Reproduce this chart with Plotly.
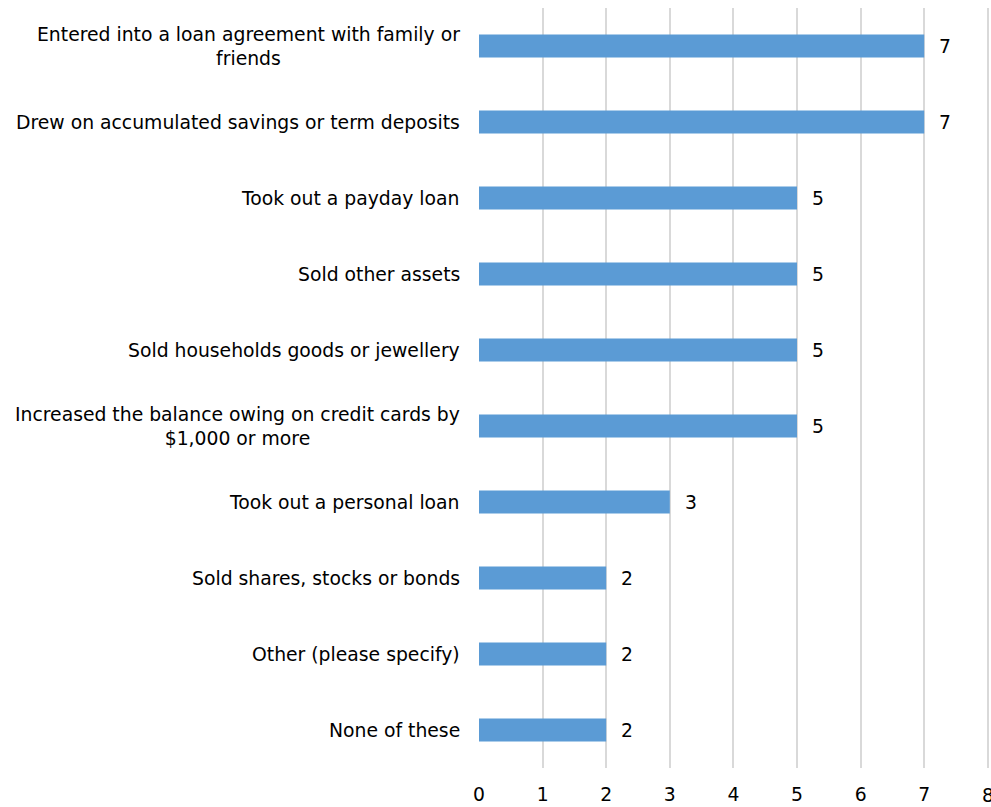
import plotly.graph_objects as go

# Responses, listed top to bottom
categories = [
    "Entered into a loan agreement with family or<br>friends",
    "Drew on accumulated savings or term deposits",
    "Took out a payday loan",
    "Sold other assets",
    "Sold households goods or jewellery",
    "Increased the balance owing on credit cards by<br>$1,000 or more",
    "Took out a personal loan",
    "Sold shares, stocks or bonds",
    "Other (please specify)",
    "None of these",
]
counts = [7, 7, 5, 5, 5, 5, 3, 2, 2, 2]
x_ticks = [0, 1, 2, 3, 4, 5, 6, 7, 8]

FONT = "DejaVu Sans"
BAR_COLOR = "#5b9bd5"
positions = list(range(len(categories)))

fig = go.Figure(
    go.Bar(
        x=counts,
        y=positions,
        orientation="h",
        width=0.3,
        marker=dict(color=BAR_COLOR, line=dict(width=0)),
        hoverinfo="skip",
    )
)

annotations = []
# category labels, right-aligned to the axis with centred line wrapping
for pos, label in zip(positions, categories):
    annotations.append(dict(
        x=0, xref="paper", y=pos, yref="y",
        text=label, showarrow=False,
        xanchor="right", yanchor="middle", align="center",
        xshift=-17,
        font=dict(family=FONT, size=18.8, color="#000000"),
    ))
# value labels to the right of each bar
for pos, v in zip(positions, counts):
    annotations.append(dict(
        x=v, xref="x", y=pos, yref="y",
        text=str(v), showarrow=False,
        xanchor="left", yanchor="middle",
        xshift=13,
        font=dict(family=FONT, size=18.8, color="#000000"),
    ))
# last x tick label sits on the right edge of the page, so draw it directly
annotations.append(dict(
    x=x_ticks[-1], xref="x", y=0, yref="paper",
    text=str(x_ticks[-1]), showarrow=False,
    xanchor="center", yanchor="middle",
    yshift=-27,
    font=dict(family=FONT, size=18.8, color="#000000"),
))

fig.update_layout(
    width=991,
    height=807,
    margin=dict(l=479, r=0, t=8, b=39),
    paper_bgcolor="white",
    plot_bgcolor="white",
    showlegend=False,
    annotations=annotations,
    xaxis=dict(
        range=[0, 8.05],
        tickvals=x_ticks,
        ticktext=[str(t) for t in x_ticks],
        showgrid=True,
        gridcolor="#d9d9d9",
        gridwidth=1.5,
        zeroline=False,
        showline=False,
        ticks="",
        ticklabelstandoff=13,
        tickfont=dict(family=FONT, size=18.8, color="#000000"),
    ),
    yaxis=dict(
        range=[len(categories) - 0.5, -0.5],
        showticklabels=False,
        showgrid=False,
        zeroline=False,
        showline=False,
        ticks="",
    ),
)

fig.write_html("out.html")
